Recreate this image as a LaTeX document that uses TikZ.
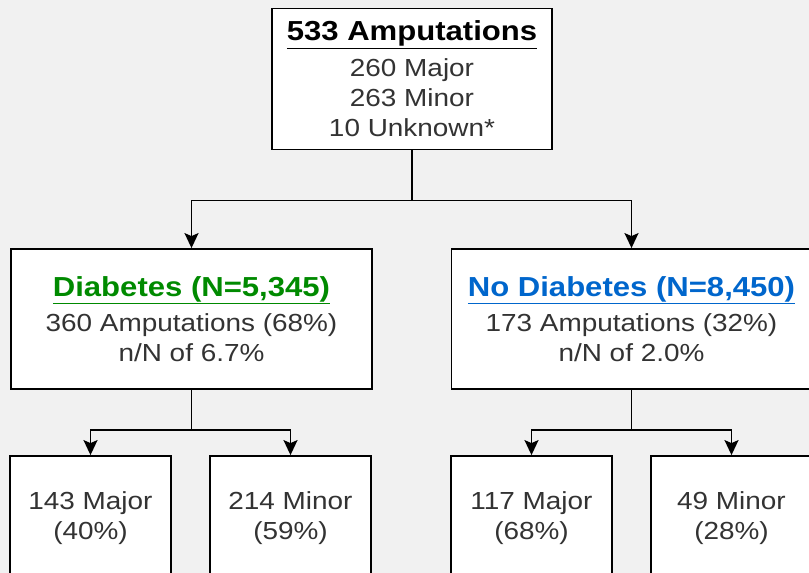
\documentclass[tikz,border=0pt]{standalone}
\usepackage{fontspec}
\setmainfont{Liberation Sans}[FakeStretch=1.13]
\usetikzlibrary{arrows.meta}
\definecolor{bggray}{HTML}{F1F1F1}
\definecolor{txtgray}{HTML}{333333}
\definecolor{dgreen}{HTML}{008A00}
\definecolor{dblue}{HTML}{0066CC}
\newcommand{\headtxt}[2]{\textcolor{#1}{\fontsize{27.5}{30}\selectfont\textbf{\underline{#2}}}}
\begin{document}
\begin{tikzpicture}[x=1pt,y=-1pt]
\tikzstyle{every node}=[draw,line width=1.8pt,fill=white,align=center,inner sep=0pt,text=txtgray,font=\fontsize{24.7}{30}\selectfont]
\tikzstyle{link}=[line width=1.8pt,-{Stealth[length=15pt,width=14pt,inset=3pt]}]
\fill[bggray] (0,0) rectangle (809,573);
\clip (0,0) rectangle (809,573);
\node[minimum width=280pt,minimum height=141pt](a0) at (412,79) {\headtxt{black}{533 Amputations}\\[6pt]260 Major\\263 Minor\\10 Unknown*};
\node[minimum width=361pt,minimum height=140pt](a10) at (191.5,319) {\headtxt{dgreen}{Diabetes (N=5,345)}\\[5pt]360 Amputations (68\%)\\n/N of 6.7\%};
\node[minimum width=360pt,minimum height=140pt](a11) at (631.5,319) {\headtxt{dblue}{No Diabetes (N=8,450)}\\[5pt]173 Amputations (32\%)\\n/N of 2.0\%};
\node[minimum width=161pt,minimum height=125pt](a20) at (90.5,518.5) {143 Major\\(40\%)};
\node[minimum width=161pt,minimum height=125pt](a21) at (290.5,518.5) {214 Minor\\(59\%)};
\node[minimum width=161pt,minimum height=125pt](a22) at (531.5,518.5) {117 Major\\(68\%)};
\node[minimum width=161pt,minimum height=125pt](a23) at (731.5,518.5) {49 Minor\\(28\%)};
\draw[link] (a0.south) -- ++(0,50) -| (a10.north);
\draw[link] (a0.south) -- ++(0,50) -| (a11.north);
\draw[link] (a10.south) -- ++(0,40) -| (a20.north);
\draw[link] (a10.south) -- ++(0,40) -| (a21.north);
\draw[link] (a11.south) -- ++(0,40) -| (a22.north);
\draw[link] (a11.south) -- ++(0,40) -| (a23.north);
\end{tikzpicture}
\end{document}
